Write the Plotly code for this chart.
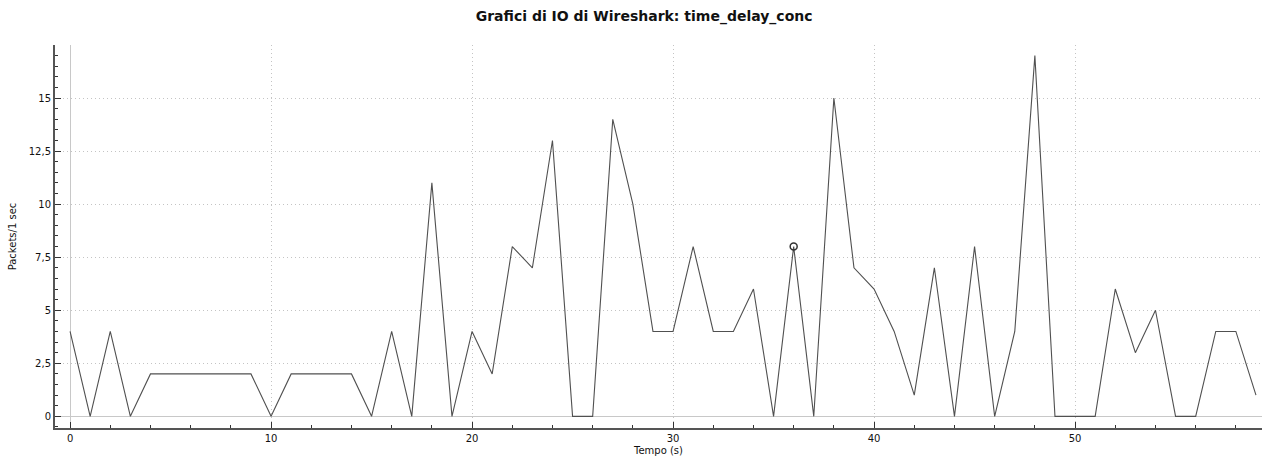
import plotly.graph_objects as go

# Packets per 1-second interval
seconds = list(range(60))
packets = [4, 0, 4, 0, 2, 2, 2, 2, 2, 2,
           0, 2, 2, 2, 2, 0, 4, 0, 11, 0,
           4, 2, 8, 7, 13, 0, 0, 14, 10, 4,
           4, 8, 4, 4, 6, 0, 8, 0, 15, 7,
           6, 4, 1, 7, 0, 8, 0, 4, 17, 0,
           0, 0, 6, 3, 5, 0, 0, 4, 4, 1]

# Highlighted sample
marked_second = 36

y_ticks = [0, 2.5, 5, 7.5, 10, 12.5, 15]
y_tick_text = ["0", "2,5", "5", "7,5", "10", "12,5", "15"]
x_ticks = [0, 10, 20, 30, 40, 50]

font_family = "DejaVu Sans, Verdana, sans-serif"

fig = go.Figure()
fig.add_trace(go.Scatter(
    x=seconds, y=packets, mode="lines",
    line=dict(color="#505050", width=1.1),
    showlegend=False, hoverinfo="x+y",
))
fig.add_trace(go.Scatter(
    x=[marked_second], y=[packets[marked_second]], mode="markers",
    marker=dict(symbol="circle-open", size=7, color="#333333", line=dict(width=1.5)),
    showlegend=False,
))

fig.update_layout(
    width=1263, height=456,
    margin=dict(l=55, r=1, t=45, b=28),
    paper_bgcolor="white", plot_bgcolor="white",
    font=dict(family=font_family, size=10, color="#111111"),
    title=dict(
        text="<b>Grafici di IO di Wireshark: time_delay_conc</b>",
        x=0.51, xanchor="center", y=0.975, yanchor="top",
        font=dict(family=font_family, size=14, color="#111111"),
    ),
)

fig.update_xaxes(
    range=[-0.75, 59.3], automargin=False,
    tickvals=x_ticks,
    ticks="inside", ticklen=6, tickcolor="#333333", tickwidth=1,
    minor=dict(dtick=2, tick0=0, ticks="inside", ticklen=3, tickcolor="#333333", showgrid=False),
    showgrid=True, gridcolor="#c4c4c4", griddash="1px,3px", gridwidth=1,
    zeroline=True, zerolinecolor="#c8c8c8", zerolinewidth=1,
    showline=True, linecolor="#555555", linewidth=2,
    title=dict(text="Tempo (s)", standoff=11, font=dict(size=10)),
    tickfont=dict(size=10),
)
fig.update_yaxes(
    range=[-0.55, 17.5], automargin=False,
    tickvals=y_ticks, ticktext=y_tick_text,
    ticks="inside", ticklen=6, tickcolor="#333333", tickwidth=1,
    minor=dict(dtick=0.5, tick0=0, ticks="inside", ticklen=3, tickcolor="#333333", showgrid=False),
    showgrid=True, gridcolor="#c4c4c4", griddash="1px,3px", gridwidth=1,
    zeroline=True, zerolinecolor="#c8c8c8", zerolinewidth=1,
    showline=True, linecolor="#555555", linewidth=2,
    title=dict(text="Packets/1 sec", standoff=10, font=dict(size=10)),
    tickfont=dict(size=10),
)

fig.write_html("out.html")
